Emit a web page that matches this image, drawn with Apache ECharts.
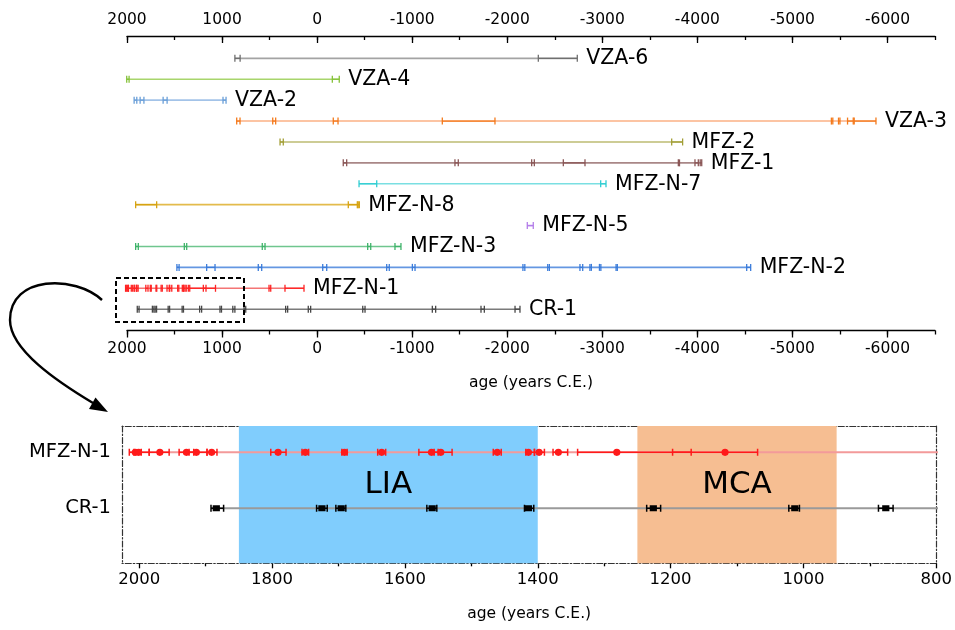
<!DOCTYPE html>
<html><head><meta charset="utf-8">
<script src="https://cdn.jsdelivr.net/npm/echarts@6/dist/echarts.min.js"></script>
<style>html,body{margin:0;padding:0;background:#fff}#c{width:955px;height:630px}</style>
</head><body><div id="c"></div>
<script>
const FONT = 'DejaVu Sans';

// ---------- data (years C.E.; negative = B.C.E.) ----------
const rowNames = ['VZA-6','VZA-4','VZA-2','VZA-3','MFZ-2','MFZ-1','MFZ-N-7','MFZ-N-8','MFZ-N-5','MFZ-N-3','MFZ-N-2','MFZ-N-1','CR-1'];
// dated intervals [younger bound, older bound]
const vza6 = [[865,810],[-2327,-2737]];
const vza4 = [[2003,1978],[-160,-233]];
const vza2 = [[1925,1897],[1862,1822],[1620,1578],[990,958]];
const vza3 = [[846,811],[467,436],[-170,-220],[-1317,-1871],[-5410,-5425],[-5485,-5500],[-5580,-5640],[-5650,-5879]];
const mfz2 = [[390,356],[-3730,-3845]];
const mfz1 = [[-275,-311],[-1450,-1485],[-2257,-2285],[-2590,-2818],[-3800,-3812],[-3975,-4010],[-4030,-4046]];
const mfzN7 = [[-441,-627],[-2983,-3039]];
const mfzN8 = [[1909,1688],[-328,-423],[-432,-444]];
const mfzN5 = [[-2211,-2274]];
const mfzN3 = [[1909,1881],[1397,1372],[577,548],[-532,-564],[-819,-882]];
const mfzN2 = [[1475,1452],[1162,1074],[619,583],[-59,-101],[-732,-759],[-1002,-1030],[-2165,-2185],[-2426,-2443],[-2765,-2794],[-2870,-2885],[-2970,-2985],[-3145,-3158],[-4519,-4561]];
// samples with marker: [age, younger bound, older bound]
const mfzN1 = [[2006,2015,1997],[2001,2008,1985],[1969,1985,1955],[1929,1940,1918],[1914,1925,1898],[1891,1898,1883],
  [1791,1802,1779],[1750,1755,1745],[1691,1695,1687],[1635,1641,1629],[1560,1579,1550],[1546,1556,1529],
  [1461,1467,1455],[1414,1418,1405],[1398,1405,1390],[1369,1377,1355],[1281,1340,1169],
  [1118,1197,1069],[497,506,488],[240,338,138]];
const cr1 = [[1884,1892,1873],[1725,1733,1717],[1696,1704,1689],[1559,1567,1552],[1414,1420,1406],[1226,1236,1215],
  [1013,1022,1006],[876,887,865],[760,769,751],[320,331,310],[80,93,68],[-492,-480,-504],[-1230,-1212,-1247],
  [-1742,-1724,-1759],[-2108,-2082,-2134]];
const bottomRowNames = ['MFZ-N-1','CR-1'];
const periodNames = ['LIA','MCA'];
const periods = [[1850,1400],[1250,950]];
const topMajorTicks = [2000,1000,0,-1000,-2000,-3000,-4000,-5000,-6000];
const bottomMajorTicks = [2000,1800,1600,1400,1200,1000,800];
const bottomMinorTicks = [1900,1700,1500,1300,1100,900];
const axisTitle = 'age (years C.E.)';

// ---------- styles ----------
const barColors  = ['#6f6f6f','#86c23a','#6a9fd8','#f47a1c','#a29e35','#8a5656','#2fcdd2','#d6a312','#b47ee9','#3fb36a','#3b7cda','#ff2222','#474747'];
const lineColors = ['#a3a3a3','#a8d56c','#a3c3e8','#fbb184','#bdbb72','#a98787','#7adfe2','#e3bb4c','#c9a5f0','#6fc68e','#6497e2','#f47575','#7a7a7a'];

const toBounds = arr => arr.map(s => [s[1], s[2]]);
const rowData = [vza6, vza4, vza2, vza3, mfz2, mfz1, mfzN7, mfzN8, mfzN5, mfzN3, mfzN2, toBounds(mfzN1), toBounds(cr1)];
const plain = v => String(v);

function barRenderer(color, capH, lw, marker, labelText) {
  return function (params, api) {
    const y = api.value(2);
    const a = api.coord([api.value(0), y]);
    const b = api.coord([api.value(1), y]);
    const st = {stroke: color, lineWidth: lw};
    const ch = [
      {type: 'line', shape: {x1: a[0], y1: a[1], x2: b[0], y2: b[1]}, style: st},
      {type: 'line', shape: {x1: a[0], y1: a[1] - capH / 2, x2: a[0], y2: a[1] + capH / 2}, style: st},
      {type: 'line', shape: {x1: b[0], y1: b[1] - capH / 2, x2: b[0], y2: b[1] + capH / 2}, style: st}
    ];
    if (marker) {
      const c = api.coord([api.value(3), y]);
      if (marker === 'circle') ch.push({type: 'circle', shape: {cx: c[0], cy: c[1], r: 3.6}, style: {fill: color}});
      else ch.push({type: 'rect', shape: {x: c[0] - 3.6, y: c[1] - 3, width: 7.2, height: 6}, style: {fill: color}});
    }
    if (labelText && api.value(3) === 1) {
      ch.push({type: 'text', x: b[0] + 9, y: b[1] + 0.5,
        style: {text: labelText, fill: '#000', fontSize: 20.5, fontFamily: FONT, align: 'left', verticalAlign: 'middle'}});
    }
    return {type: 'group', children: ch};
  };
}

const series = [];
rowData.forEach((d, i) => {
  const youngest = Math.max(...d.map(s => s[0]));
  const oldest = Math.min(...d.map(s => s[1]));
  series.push({
    type: 'line', name: rowNames[i], xAxisIndex: 0, yAxisIndex: 0, clip: false, silent: true,
    data: [[youngest, i], [oldest, i]], symbol: 'none', z: 2,
    lineStyle: {color: lineColors[i], width: 1.6}
  });
  series.push({
    type: 'custom', xAxisIndex: 0, yAxisIndex: 0, clip: false, silent: true, z: 3,
    renderItem: barRenderer(barColors[i], 7, 1.3, null, rowNames[i]),
    encode: {x: [0, 1], y: 2},
    data: d.map(s => [s[0], s[1], i, s[1] === oldest ? 1 : 0])
  });
});

// bottom (zoomed) panel
[mfzN1, cr1].forEach((d, k) => {
  const youngest = Math.max(...d.map(s => s[1]));
  const oldest = Math.min(...d.map(s => s[2]));
  const s = {
    type: 'line', xAxisIndex: 4, yAxisIndex: 1, clip: true, silent: true, z: 2,
    data: [[youngest, k], [oldest, k]], symbol: 'none',
    lineStyle: {color: k === 0 ? '#f39a9a' : '#9a9a9a', width: 2}
  };
  if (k === 0) {
    s.markArea = {
      silent: true,
      label: {show: true, position: 'inside', offset: [0, -10], color: '#000', fontSize: 31, fontFamily: FONT},
      data: periods.map((p, j) => [
        {xAxis: p[0], name: periodNames[j], itemStyle: {color: j === 0 ? '#80cdfd' : '#f6be92', opacity: 1}},
        {xAxis: p[1]}
      ])
    };
  }
  series.push(s);
  series.push({
    type: 'custom', xAxisIndex: 4, yAxisIndex: 1, clip: true, silent: true, z: 3,
    renderItem: barRenderer(k === 0 ? '#ff1a1a' : '#000000', 7, 1.5, k === 0 ? 'circle' : 'rect'),
    encode: {x: [0, 1, 3], y: 2},
    data: d.map(v => [v[1], v[2], k, v[0]])
  });
});

const blk = {color: '#000', width: 1.3};
const dashDot = {color: '#333', width: 1.2, type: [6, 2, 1.5, 2]};
const tickFont = {color: '#000', fontFamily: FONT, formatter: plain};

const option = {
  animation: false,
  textStyle: {fontFamily: FONT},
  grid: [
    {left: 127, top: 36, width: 808, height: 294.5},
    {left: 122, top: 426, width: 815, height: 137.3}
  ],
  xAxis: [
    {gridIndex: 0, type: 'value', position: 'top', min: -6500, max: 2000, inverse: true, interval: 500,
      axisLine: {onZero: false, lineStyle: blk}, axisTick: {inside: true, length: 4, lineStyle: blk},
      axisLabel: {show: false}, splitLine: {show: false}},
    {gridIndex: 0, type: 'value', position: 'top', min: -6500, max: 2000, inverse: true,
      axisLine: {show: false, onZero: false}, axisTick: {inside: true, length: 7, lineStyle: blk, customValues: topMajorTicks},
      axisLabel: Object.assign({customValues: topMajorTicks, fontSize: 15.5, margin: 8}, tickFont), splitLine: {show: false}},
    {gridIndex: 0, type: 'value', position: 'bottom', min: -6500, max: 2000, inverse: true, interval: 500,
      axisLine: {onZero: false, lineStyle: blk}, axisTick: {length: 4, lineStyle: blk},
      axisLabel: {show: false}, splitLine: {show: false},
      name: axisTitle, nameLocation: 'middle', nameGap: 44, nameTextStyle: {fontSize: 15.5, color: '#000', fontFamily: FONT}},
    {gridIndex: 0, type: 'value', position: 'bottom', min: -6500, max: 2000, inverse: true,
      axisLine: {show: false, onZero: false}, axisTick: {length: 7, lineStyle: blk, customValues: topMajorTicks},
      axisLabel: Object.assign({customValues: topMajorTicks, fontSize: 15.5, margin: 10}, tickFont), splitLine: {show: false}},
    {gridIndex: 1, type: 'value', position: 'bottom', min: 800, max: 2026, inverse: true,
      axisLine: {onZero: false, lineStyle: dashDot}, axisTick: {length: 5, lineStyle: blk, customValues: bottomMajorTicks},
      axisLabel: Object.assign({customValues: bottomMajorTicks, fontSize: 16.5, margin: 8}, tickFont), splitLine: {show: false},
      name: axisTitle, nameLocation: 'middle', nameGap: 43, nameTextStyle: {fontSize: 15.5, color: '#000', fontFamily: FONT}},
    {gridIndex: 1, type: 'value', position: 'bottom', min: 800, max: 2026, inverse: true,
      axisLine: {show: false, onZero: false}, axisTick: {length: 3, lineStyle: blk, customValues: bottomMinorTicks},
      axisLabel: {show: false}, splitLine: {show: false}},
    {gridIndex: 1, type: 'value', position: 'top', min: 800, max: 2026, inverse: true,
      axisLine: {onZero: false, lineStyle: dashDot}, axisTick: {show: false}, axisLabel: {show: false}, splitLine: {show: false}}
  ],
  yAxis: [
    {gridIndex: 0, type: 'value', min: -1.07, max: 13.02, inverse: true, show: false},
    {gridIndex: 1, type: 'value', position: 'left', min: -0.47, max: 1.982, inverse: true,
      axisLine: {show: true, onZero: false, lineStyle: dashDot}, axisTick: {show: false}, splitLine: {show: false},
      axisLabel: {customValues: [0, 1], formatter: v => bottomRowNames[v] || '', fontSize: 19.5, margin: 11, color: '#000', fontFamily: FONT}},
    {gridIndex: 1, type: 'value', position: 'right', min: -0.47, max: 1.982, inverse: true,
      axisLine: {show: true, onZero: false, lineStyle: dashDot}, axisTick: {show: false}, axisLabel: {show: false}, splitLine: {show: false}}
  ],
  graphic: [
    {type: 'rect', shape: {x: 116, y: 278, width: 128, height: 44}, style: {fill: null, stroke: '#000', lineWidth: 2, lineDash: [5, 3]}, z: 10},
    {type: 'bezierCurve', shape: {x1: 102, y1: 300, cpx1: 75, cpy1: 275, cpx2: 10, cpy2: 275, x2: 10, y2: 320}, style: {fill: null, stroke: '#000', lineWidth: 2.4}, z: 10},
    {type: 'bezierCurve', shape: {x1: 10, y1: 320, cpx1: 10, cpy1: 350, cpx2: 58, cpy2: 382, x2: 93, y2: 403}, style: {fill: null, stroke: '#000', lineWidth: 2.4}, z: 10},
    {type: 'polygon', shape: {points: [[108, 412], [89, 409], [95.5, 397.5]]}, style: {fill: '#000'}, z: 10}
  ],
  series: series
};

const chart = echarts.init(document.getElementById('c'), null, {renderer: 'canvas'});
chart.setOption(option);
</script>
</body></html>
